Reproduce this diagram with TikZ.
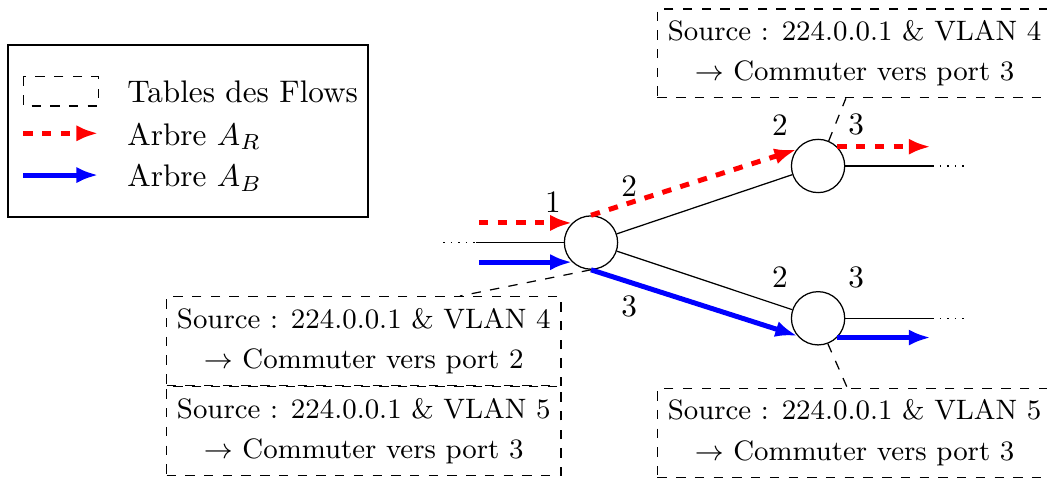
\documentclass[tikz,border=0pt]{standalone}
\usepackage{amsmath,amssymb}
\usepackage{tikz}
\usetikzlibrary{positioning}
\usetikzlibrary{arrows.meta}

\begin{document}
\begin{tikzpicture}[
    sw/.style={circle, draw, minimum size=0.6cm, inner sep=0pt},
    treeR/.style={ultra thick, red, dashed, -{Latex[length=7pt,width=5.2pt]}},
    treeB/.style={ultra thick, blue, -{Latex[length=7pt,width=5.2pt]}},
    flowtab/.style={draw, dashed, font=\small, align=center, minimum height=1cm}
]
    \useasboundingbox (0,0) rectangle (11.79,-5.372);

    % Legend
    \draw (0.09,-0.507) rectangle (4.144,-2.444);
    \draw[dashed] (0.263,-0.864) rectangle (1.107,-1.194);
    \coordinate (legRa) at (0.263,-1.501);
    \coordinate (legRb) at (1.107,-1.501);
    \coordinate (legBa) at (0.263,-1.971);
    \coordinate (legBb) at (1.107,-1.971);
    \draw[treeR] (legRa) -- (legRb);
    \draw[treeB] (legBa) -- (legBb);
    \node[anchor=base west] (txtT) at (1.31,-1.157) {Tables des Flows};
    \node[anchor=base west] (txtR) at (1.31,-1.633) {Arbre $A_R$};
    \node[anchor=base west] (txtB) at (1.31,-2.102) {Arbre $A_B$};

    % Switches
    \node[sw] (S1) at (6.655,-2.731) {};
    \node[sw] (S2) at (9.212,-1.869) {};
    \node[sw] (S3) at (9.212,-3.584) {};

    % Port numbers
    \node[above left=0cm of S1] (p1) {1};
    \node[above right=0.178cm and 0cm of S1] (p2) {2};
    \node[below right=0.255cm and 0cm of S1] (p3) {3};
    \node[above left=0cm of S2] (q2) {2};
    \node[above right=0cm of S2] (q3) {3};
    \node[above left=0cm of S3] (r2) {2};
    \node[above right=0cm of S3] (r3) {3};

    % Physical links
    \coordinate (in1) at ([xshift=-0.986cm]S1.west);
    \coordinate (in0) at ([xshift=-0.37cm]in1);
    \coordinate (out2) at ([xshift=0.98cm]S2.east);
    \coordinate (end2) at ([xshift=0.375cm]out2);
    \coordinate (out3) at ([xshift=0.98cm]S3.east);
    \coordinate (end3) at ([xshift=0.375cm]out3);
    \draw (S1) -- (S2);
    \draw (S1) -- (S3);
    \draw (in1) -- (S1.west);
    \draw[dotted] (in0) -- (in1);
    \draw (S2.east) -- (out2);
    \draw[dotted] (out2) -- (end2);
    \draw (S3.east) -- (out3);
    \draw[dotted] (out3) -- (end3);

    % Trees
    \coordinate (inR) at ([xshift=-1.05cm]S1.134);
    \coordinate (outR) at ([xshift=1.05cm]S2.45);
    \coordinate (inB) at ([xshift=-1.05cm]S1.226);
    \coordinate (outB) at ([xshift=1.05cm]S3.-45);
    \draw[treeR] (inR) -- (S1.134);
    \draw[treeR] (S1.north) -- (S2.143);
    \draw[treeR] (S2.45) -- (outR);
    \draw[treeB] (inB) -- (S1.226);
    \draw[treeB] (S1.south) -- (S3.220);
    \draw[treeB] (S3.-45) -- (outB);

    % Flow tables
    \node[flowtab] (T1) at (4.096,-3.840) {Source : 224.0.0.1 \& VLAN 4\\[2pt] $\rightarrow$ Commuter vers port 2};
    \node[flowtab, below=0cm of T1] (T2) {Source : 224.0.0.1 \& VLAN 5\\[2pt] $\rightarrow$ Commuter vers port 3};
    \node[flowtab] (T3) at (9.623,-0.600) {Source : 224.0.0.1 \& VLAN 4\\[2pt] $\rightarrow$ Commuter vers port 3};
    \node[flowtab] (T4) at (9.623,-4.874) {Source : 224.0.0.1 \& VLAN 5\\[2pt] $\rightarrow$ Commuter vers port 3};

    \draw[dashed] (S1.south) -- ([xshift=1.084cm]T1.north);
    \draw[dashed] (S2.67) -- ([xshift=-0.098cm]T3.south);
    \draw[dashed] (S3.-69) -- ([xshift=-0.082cm]T4.north);
\end{tikzpicture}
\end{document}
